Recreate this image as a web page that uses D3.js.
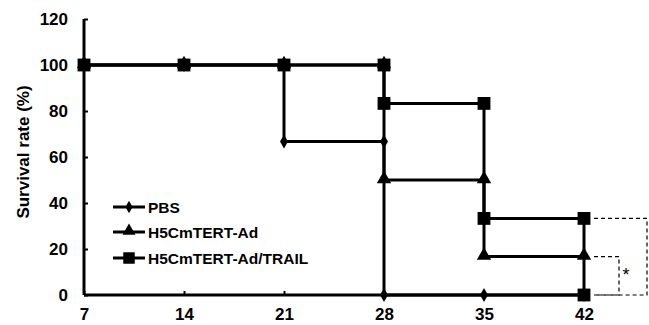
<!DOCTYPE html>
<html><head><meta charset="utf-8">
<script src="https://cdn.jsdelivr.net/npm/d3@7"></script>
<style>body{margin:0;background:#fff;} svg{display:block;} text{font-family:"Liberation Sans",Arial,sans-serif;font-weight:bold;fill:#000;}</style>
</head><body><svg id="c" width="649" height="325"></svg>
<script>
const xTicks = [7, 14, 21, 28, 35, 42];
const yTicks = [0, 20, 40, 60, 80, 100, 120];
const seriesNames = ["PBS", "H5CmTERT-Ad", "H5CmTERT-Ad/TRAIL"];
const pbsDays = [7, 14, 21, 21, 28, 28, 35, 42];
const pbsVals = [100, 100, 100, 66.7, 66.7, 0, 0, 0];
const adDays = [7, 14, 21, 28, 28, 35, 35, 42];
const adVals = [100, 100, 100, 100, 50, 50, 16.7, 16.7];
const trailDays = [7, 14, 21, 28, 28, 35, 35, 42, 42];
const trailVals = [100, 100, 100, 100, 83.3, 83.3, 33.3, 33.3, 0];
const markers = ["diamond", "triangle", "square"];

const svg = d3.select("#c");
const x = d3.scaleLinear().domain([7, 42]).range([84, 584]);
const y = d3.scaleLinear().domain([0, 120]).range([295, 19]);

// axes
const gx = svg.append("g").attr("transform", "translate(0,295)")
  .call(d3.axisBottom(x).tickValues(xTicks).tickSize(-4).tickPadding(13).tickFormat(d3.format("d")));
const gy = svg.append("g").attr("transform", "translate(84,0)")
  .call(d3.axisLeft(y).tickValues(yTicks).tickSize(-4).tickPadding(16));
[gx, gy].forEach(g => {
  g.select(".domain").attr("stroke", "#000").attr("stroke-width", 3);
  g.selectAll(".tick line").attr("stroke", "#000").attr("stroke-width", 2);
  g.selectAll(".tick text").attr("fill", "#000").style("font-size", "17px").style("font-weight", "bold")
   .style("font-family", "'Liberation Sans', Arial, sans-serif");
});
gy.select(".domain").attr("d", "M0," + y(0) + "V" + y(120));
gx.select(".domain").attr("d", "M" + x(7) + ",0H" + x(42));

svg.append("text").attr("transform", "translate(29,152) rotate(-90)")
  .attr("text-anchor", "middle").style("font-size", "17px").text("Survival rate (%)");

const data = [
  pbsDays.map((d, i) => [d, pbsVals[i]]),
  adDays.map((d, i) => [d, adVals[i]]),
  trailDays.map((d, i) => [d, trailVals[i]])
];
const line = d3.line().x(d => x(d[0])).y(d => y(d[1]));
const symType = {diamond: d3.symbolDiamond, triangle: d3.symbolTriangle, square: d3.symbolSquare};
const symSize = {diamond: 55, triangle: 90, square: 165};

data.forEach((s, i) => {
  svg.append("path").attr("d", line(s)).attr("fill", "none").attr("stroke", "#000").attr("stroke-width", 3);
});
data.forEach((s, i) => {
  const m = markers[i];
  svg.append("g").selectAll("path").data(s).join("path")
    .attr("transform", d => `translate(${x(d[0])},${y(d[1]) + (m === "triangle" ? -1 : 0)})`)
    .attr("d", d3.symbol().type(symType[m]).size(symSize[m]))
    .attr("fill", "#000");
});

// legend
const legY = [207, 232, 258];
seriesNames.forEach((n, i) => {
  const g = svg.append("g");
  g.append("line").attr("x1", 113).attr("x2", 145).attr("y1", legY[i]).attr("y2", legY[i])
    .attr("stroke", "#000").attr("stroke-width", 3);
  g.append("path").attr("transform", `translate(129,${legY[i] + (markers[i] === "triangle" ? -1 : 0)})`)
    .attr("d", d3.symbol().type(symType[markers[i]]).size(symSize[markers[i]] * 0.8)).attr("fill", "#000");
  g.append("text").attr("x", 148).attr("y", legY[i]).attr("dy", "0.36em").style("font-size", "15.5px").text(n);
});

// significance brackets
const bx0 = x(42) + 10;
svg.append("path").attr("d", `M${bx0},${y(33.3)}H${647}V${y(0)}H${bx0}`)
  .attr("fill", "none").attr("stroke", "#000").attr("stroke-width", 1.2).attr("stroke-dasharray", "4,3");
svg.append("path").attr("d", `M${bx0},${y(16.7)}H${619}V${y(0)}H${bx0}`)
  .attr("fill", "none").attr("stroke", "#000").attr("stroke-width", 1.2).attr("stroke-dasharray", "4,3");
svg.append("text").attr("x", 626).attr("y", 281).attr("text-anchor", "middle")
  .style("font-size", "18px").style("font-weight", "normal").text("*");
</script></body></html>
